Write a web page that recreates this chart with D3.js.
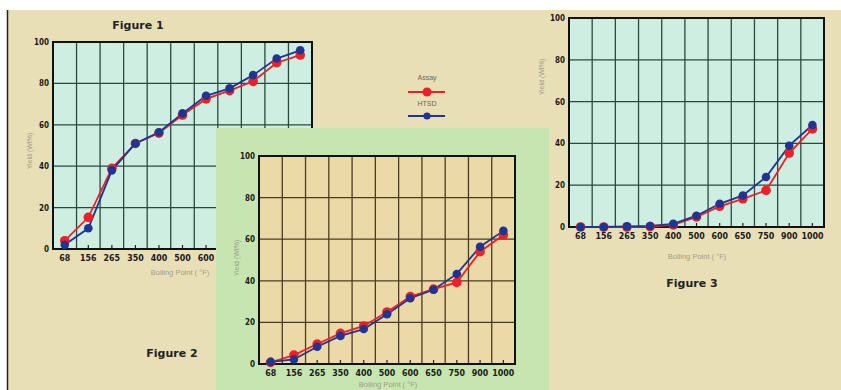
<!DOCTYPE html>
<html>
<head>
<meta charset="utf-8">
<script src="https://cdn.jsdelivr.net/npm/d3@7"></script>
<style>
  html, body { margin: 0; padding: 0; background: #ffffff; }
  svg { display: block; }
</style>
</head>
<body>
<svg id="chart" width="841" height="390"></svg>
<script>
// ---- data ----
const categories = ["68", "156", "265", "350", "400", "500", "600", "650", "750", "900", "1000"];
const yTickValues = [0, 20, 40, 60, 80, 100];
const seriesNames = ["Assay", "HTSD"];
const assayFig1 = [4, 15.3, 39, 51, 56, 64.7, 72.5, 76.5, 81, 90, 93.7];
const htsdFig1  = [2, 10, 38, 51, 56.4, 65.5, 74, 77.6, 84, 92, 96];
const assayFig2 = [0.8, 4.3, 9.6, 14.7, 18.3, 25, 32.4, 36, 39.2, 54, 62];
const htsdFig2  = [1, 2.2, 8.3, 13.5, 16.8, 23.9, 31.6, 35.7, 43.3, 56.4, 64];
const assayFig3 = [0, 0, 0, 0.2, 1, 4.8, 9.9, 13.5, 17.5, 35.4, 46.9];
const htsdFig3  = [0, 0, 0.3, 0.5, 1.5, 5.4, 11.1, 15.1, 23.9, 38.9, 48.8];
const figureTitles = ["Figure 1", "Figure 2", "Figure 3"];
const xAxisTitle = "Boiling Point ( \u00B0F)";
const yAxisTitle = "Yield (Wt%)";

// ---- styles ----
const RED = "#ee1f26";
const BLUE = "#1e3593";
const tickFont = "'DejaVu Sans Condensed', 'Liberation Sans Narrow', 'Liberation Sans', sans-serif";

const svg = d3.select("#chart");

// page background
svg.append("rect").attr("x", 7).attr("y", 10).attr("width", 834).attr("height", 380).attr("fill", "#e9dfb7");
svg.append("line").attr("x1", 7.5).attr("x2", 7.5).attr("y1", 10).attr("y2", 390)
  .attr("stroke", "#222").attr("stroke-width", 1.5);

function drawFigure(opts) {
  const g = svg.append("g");
  const x = d3.scaleBand().domain(categories).range([opts.x0, opts.x1]).padding(0);
  const y = d3.scaleLinear().domain([0, 100]).range([opts.y1, opts.y0]);
  const bw = x.bandwidth();

  g.append("rect")
    .attr("x", opts.x0).attr("y", opts.y0)
    .attr("width", opts.x1 - opts.x0).attr("height", opts.y1 - opts.y0)
    .attr("fill", opts.fill);

  // vertical grid at band edges
  g.selectAll(".vg").data(categories.slice(1)).join("line")
    .attr("x1", d => x(d)).attr("x2", d => x(d))
    .attr("y1", opts.y0).attr("y2", opts.y1)
    .attr("stroke", opts.grid).attr("stroke-width", 1.3);
  // horizontal grid
  g.selectAll(".hg").data(yTickValues.slice(1, -1)).join("line")
    .attr("x1", opts.x0).attr("x2", opts.x1)
    .attr("y1", d => y(d)).attr("y2", d => y(d))
    .attr("stroke", opts.grid).attr("stroke-width", 1.3);

  // bottom axis
  const xa = g.append("g").attr("transform", `translate(0,${opts.y1})`)
    .call(d3.axisBottom(x).tickSizeInner(-4).tickSizeOuter(0).tickPadding(6));
  xa.select(".domain").remove();
  xa.selectAll(".tick line").attr("stroke", "#222").attr("stroke-width", 1.2);
  xa.selectAll(".tick text")
    .attr("font-family", tickFont).attr("font-weight", "bold").attr("font-size", "8.8px")
    .attr("fill", "#1a1a1a");

  // left axis
  const ya = g.append("g").attr("transform", `translate(${opts.x0},0)`)
    .call(d3.axisLeft(y).tickValues(yTickValues).tickSize(0).tickPadding(4));
  ya.select(".domain").remove();
  ya.selectAll(".tick text")
    .attr("font-family", tickFont).attr("font-weight", "bold").attr("font-size", "8px")
    .attr("fill", "#1a1a1a");

  // border
  g.append("rect")
    .attr("x", opts.x0).attr("y", opts.y0)
    .attr("width", opts.x1 - opts.x0).attr("height", opts.y1 - opts.y0)
    .attr("fill", "none").attr("stroke", "#111").attr("stroke-width", 2);

  // series
  const line = d3.line().x((d, i) => x(categories[i]) + bw / 2).y(d => y(d));
  const series = [
    { values: opts.assay, color: RED, r: 4.8 },
    { values: opts.htsd, color: BLUE, r: 4.3 }
  ];
  series.forEach(s => {
    g.append("path").datum(s.values).attr("d", line)
      .attr("fill", "none").attr("stroke", s.color).attr("stroke-width", 1.8);
  });
  series.forEach(s => {
    g.selectAll(null).data(s.values).join("circle")
      .attr("cx", (d, i) => x(categories[i]) + bw / 2)
      .attr("cy", d => y(d))
      .attr("r", s.r).attr("fill", s.color);
  });

  // axis titles
  g.append("text")
    .attr("x", opts.xTitleX).attr("y", opts.xTitleY).attr("dy", "0.35em")
    .attr("text-anchor", "middle")
    .attr("font-family", "'Liberation Sans', sans-serif").attr("font-size", "7.5px")
    .attr("fill", "#a19c88").text(xAxisTitle);
  g.append("text")
    .attr("transform", `translate(${opts.yTitleX},${opts.yTitleY}) rotate(-90)`)
    .attr("text-anchor", "middle").attr("dy", "0.35em")
    .attr("font-family", "'Liberation Sans', sans-serif").attr("font-size", "7px")
    .attr("fill", "#a19c88").text(yAxisTitle);

  // figure title
  g.append("text")
    .attr("x", opts.titleX).attr("y", opts.titleY)
    .attr("text-anchor", "middle").attr("dy", "0.35em")
    .attr("font-family", "'DejaVu Sans', sans-serif").attr("font-weight", "bold")
    .attr("font-size", "11px").attr("fill", "#222").text(opts.title);
  return g;
}

// Figure 1
drawFigure({
  x0: 53, x1: 312, y0: 42, y1: 249, fill: "#cdeee0", grid: "#2b4a3e",
  assay: assayFig1, htsd: htsdFig1, xTitleX: 180, xTitleY: 272, yTitleX: 30, yTitleY: 151,
  title: figureTitles[0], titleX: 138, titleY: 25
});

// green panel for Figure 2
svg.append("rect").attr("x", 216).attr("y", 128).attr("width", 333).attr("height", 262)
  .attr("fill", "#c7e5b0");

// Figure 2 (title sits outside the green panel)
drawFigure({
  x0: 259, x1: 515, y0: 156, y1: 364, fill: "#ebd9a7", grid: "#4a3c24",
  assay: assayFig2, htsd: htsdFig2, xTitleX: 388, xTitleY: 384, yTitleX: 237, yTitleY: 258,
  title: figureTitles[1], titleX: 172, titleY: 353
});

// Figure 3
drawFigure({
  x0: 569, x1: 824, y0: 18, y1: 227, fill: "#cdeee0", grid: "#2b4a3e",
  assay: assayFig3, htsd: htsdFig3, xTitleX: 697, xTitleY: 256, yTitleX: 542, yTitleY: 77,
  title: figureTitles[2], titleX: 692, titleY: 283
});

// legend
const legend = svg.append("g");
const legendItems = [
  { name: seriesNames[0], color: RED, r: 4.5, ty: 78, ly: 92 },
  { name: seriesNames[1], color: BLUE, r: 3.6, ty: 104, ly: 116 }
];
legendItems.forEach(it => {
  legend.append("text").attr("x", 427).attr("y", it.ty).attr("dy", "0.35em")
    .attr("text-anchor", "middle")
    .attr("font-family", "'Liberation Sans', sans-serif").attr("font-size", "7px")
    .attr("fill", "#6b6656").text(it.name);
  legend.append("line").attr("x1", 408).attr("x2", 445).attr("y1", it.ly).attr("y2", it.ly)
    .attr("stroke", it.color).attr("stroke-width", 1.8);
  legend.append("circle").attr("cx", 427).attr("cy", it.ly).attr("r", it.r).attr("fill", it.color);
});
</script>
</body>
</html>
